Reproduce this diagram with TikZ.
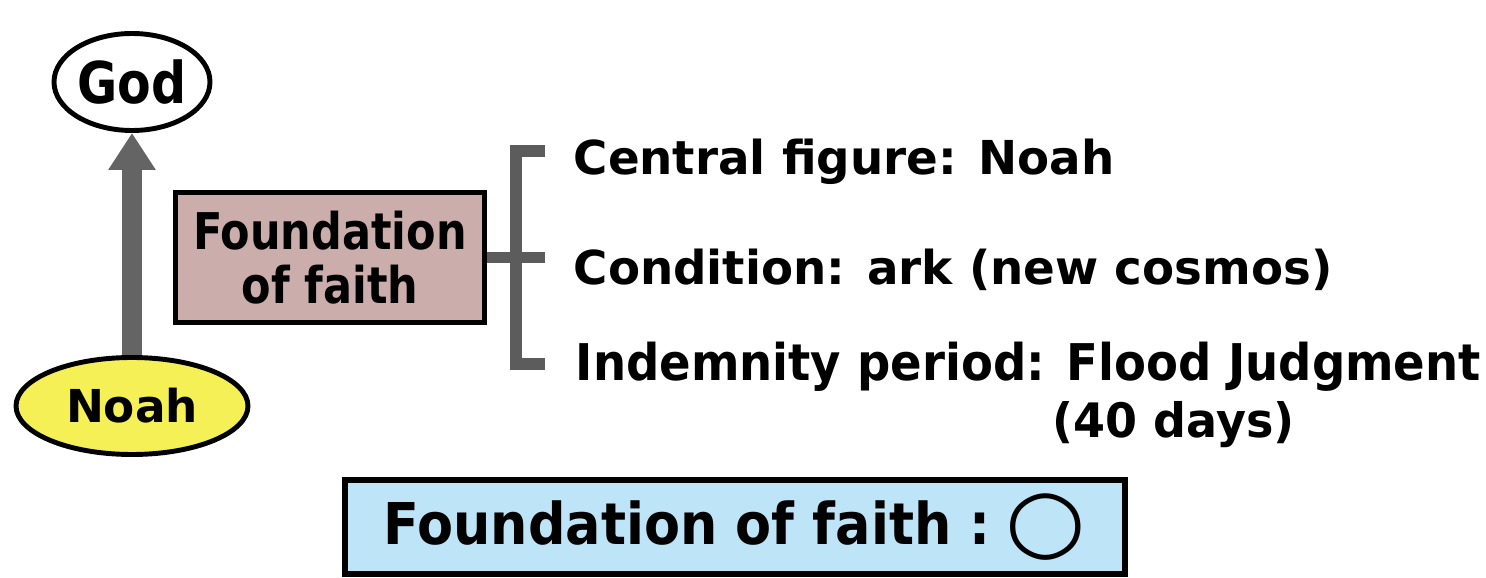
\documentclass[tikz,border=0pt]{standalone}
\usepackage{fontspec}
\setmainfont{DejaVu Sans}
\usepackage{xcolor}
\usetikzlibrary{shapes,arrows.meta,positioning,calc}
\definecolor{brown1}{RGB}{203,173,171}
\definecolor{blue1}{RGB}{190,228,248}
\definecolor{yellow1}{RGB}{245,240,85}
\definecolor{gray1}{RGB}{100,100,100}
\definecolor{gray2}{RGB}{92,92,92}

\begin{document}
\begin{tikzpicture}[
    oval/.style={draw, ellipse, line width=1.4pt, inner sep=0pt},
    box/.style={draw, rectangle, line width=1.5pt, inner sep=0pt, align=center},
    item/.style={anchor=base west, inner sep=0pt},
    bracket/.style={gray2, line width=3.2pt}
]
    \useasboundingbox (0,0) rectangle (14.86,5.77);

    \node[oval, minimum width=1.56cm, minimum height=0.97cm, font=\bfseries\fontsize{16.4}{18}\selectfont] (god) at (1.32,4.95) {\scalebox{0.85}[1]{God}};
    \node[oval, fill=yellow1, minimum width=2.32cm, minimum height=0.97cm, font=\bfseries\fontsize{12.9}{15}\selectfont] (noah) at (1.32,1.71) {Noah};
    \node[box, fill=brown1, minimum width=3.09cm, minimum height=1.30cm, font=\bfseries\fontsize{14.4}{15.4}\selectfont] (fbox) at (3.30,3.195) {\scalebox{0.85}[1]{Foundation}\\\scalebox{0.85}[1]{of faith}};

    \node[item, font=\bfseries\fontsize{13.3}{15}\selectfont] (central) at (5.73,4.02) {Central figure: Noah};
    \node[item, font=\bfseries\fontsize{13.3}{15}\selectfont] (cond) at (5.73,2.92) {Condition: ark (new cosmos)};
    \node[item, font=\bfseries\fontsize{14.4}{16}\selectfont] (indem) at (5.75,1.97) {\scalebox{0.92}[1]{Indemnity period: Flood Judgment}};
    \node[item, font=\bfseries\fontsize{13.5}{16}\selectfont] (days) at (10.52,1.40) {\scalebox{0.97}[1]{(40 days)}};

    \node[box, fill=blue1, line width=1.7pt, minimum width=7.80cm, minimum height=0.94cm, font=\bfseries\fontsize{16.4}{18}\selectfont] (result) at (7.35,0.50) {\scalebox{0.91}[1]{Foundation of faith :}\hspace{0.15cm}\raisebox{-0.05cm}{\scalebox{1.6}[1.5]{○}}};

    % Noah offers to God
    \draw[-{Triangle[width=0.45cm,length=0.37cm]}, gray1, line width=0.2cm] (noah.north) -- (god.south);

    % bracket
    \coordinate (brtop) at (5.45,4.26);
    \coordinate (brbot) at (5.45,2.13);
    \draw[bracket] (brtop) -- ++(-0.29,0) |- (brbot);
    \draw[bracket] (fbox.east) -- (fbox.east -| brtop);
\end{tikzpicture}
\end{document}
